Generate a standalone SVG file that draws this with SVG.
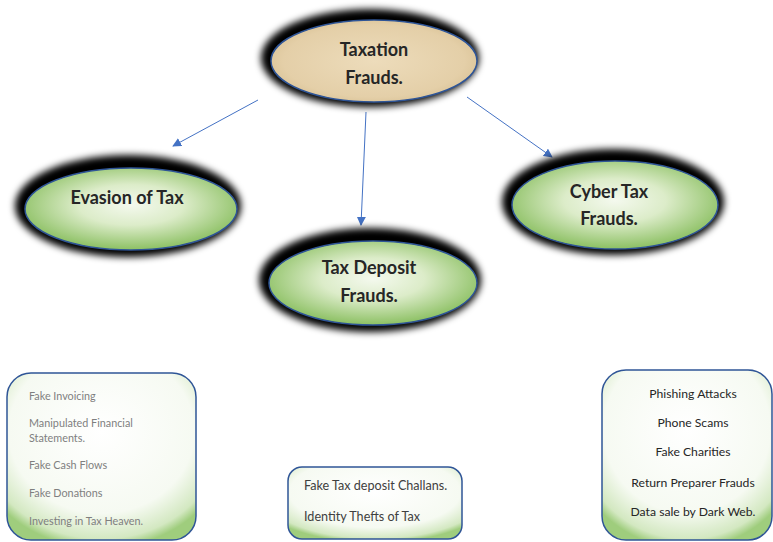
<svg xmlns="http://www.w3.org/2000/svg" width="773" height="542" viewBox="0 0 773 542">
<defs>
<filter id="glow" x="-30%" y="-40%" width="160%" height="180%"><feGaussianBlur stdDeviation="3.5"/></filter>
<radialGradient id="green" cx="50%" cy="45%" r="55%">
<stop offset="0" stop-color="#f4f9ee"/><stop offset="0.45" stop-color="#dcecc9"/><stop offset="1" stop-color="#8cc063"/>
</radialGradient>
<radialGradient id="beige" cx="50%" cy="50%" r="55%">
<stop offset="0" stop-color="#eddcbb"/><stop offset="0.8" stop-color="#e4cfa8"/><stop offset="1" stop-color="#d9c296"/>
</radialGradient>
<radialGradient id="boxg" cx="50%" cy="35%" r="70%">
<stop offset="0" stop-color="#ffffff"/><stop offset="0.7" stop-color="#f6faf2"/><stop offset="0.92" stop-color="#d3e8c1"/><stop offset="1" stop-color="#9fcd7d"/>
</radialGradient>
<marker id="arr" viewBox="0 0 10 10" refX="9" refY="5" markerWidth="9" markerHeight="9" markerUnits="userSpaceOnUse" orient="auto">
<path d="M0,0 L10,5 L0,10 z" fill="#4472c4"/>
</marker>
<style>
.sh{fill:#000;filter:url(#glow)}
.el{stroke:#2f5597;stroke-width:1.5}
.t{font-family:Lato,"Open Sans","Liberation Sans",sans-serif;font-weight:bold;font-size:18px;fill:#262626;text-anchor:middle}
.box{fill:url(#boxg);stroke:#2f5597;stroke-width:1.5}
.s1{font-family:Lato,"Open Sans","Liberation Sans",sans-serif;font-size:10.8px;fill:#7f7f7f}
.s2{font-family:Lato,"Open Sans","Liberation Sans",sans-serif;font-size:12.6px;fill:#404040}
.s3{font-family:Lato,"Open Sans","Liberation Sans",sans-serif;font-size:12.2px;fill:#262626;text-anchor:middle}
.c{stroke:#4472c4;stroke-width:1;fill:none;marker-end:url(#arr)}
</style>
</defs>
<rect width="773" height="542" fill="#fff"/>
<g id="connectors">
<line class="c" x1="258" y1="100" x2="173" y2="146"/>
<line class="c" x1="366" y1="112" x2="361" y2="225"/>
<line class="c" x1="467" y1="97" x2="552" y2="157"/>
</g>
<g id="taxation">
<ellipse class="sh" cx="370" cy="58" rx="109" ry="49"/>
<ellipse class="el" cx="374" cy="61" rx="103" ry="41" fill="url(#beige)"/>
<text class="t" x="374" y="56">Taxation</text>
<text class="t" x="374" y="84">Frauds.</text>
</g>
<g id="evasion">
<ellipse class="sh" cx="128" cy="206" rx="113" ry="51"/>
<ellipse class="el" cx="131" cy="209" rx="106" ry="41" fill="url(#green)"/>
<text class="t" x="127" y="204">Evasion of Tax</text>
</g>
<g id="deposit">
<ellipse class="sh" cx="370" cy="280" rx="111" ry="52"/>
<ellipse class="el" cx="373" cy="283" rx="104" ry="42" fill="url(#green)"/>
<text class="t" x="369" y="274">Tax Deposit</text>
<text class="t" x="369" y="302">Frauds.</text>
</g>
<g id="cyber">
<ellipse class="sh" cx="613" cy="202" rx="111" ry="53"/>
<ellipse class="el" cx="615" cy="205" rx="103" ry="44" fill="url(#green)"/>
<text class="t" x="609" y="198">Cyber Tax</text>
<text class="t" x="609" y="225">Frauds.</text>
</g>
<g id="box-evasion">
<rect class="box" x="7" y="373" width="189" height="167" rx="24"/>
<text class="s1" x="29" y="400">Fake Invoicing</text>
<text class="s1" x="29" y="427">Manipulated Financial</text>
<text class="s1" x="29" y="442">Statements.</text>
<text class="s1" x="29" y="469">Fake Cash Flows</text>
<text class="s1" x="29" y="497">Fake Donations</text>
<text class="s1" x="29" y="525">Investing in Tax Heaven.</text>
</g>
<g id="box-deposit">
<rect class="box" x="288" y="467" width="174" height="72" rx="14"/>
<text class="s2" x="304" y="490">Fake Tax deposit Challans.</text>
<text class="s2" x="304" y="521">Identity Thefts of Tax</text>
</g>
<g id="box-cyber">
<rect class="box" x="602" y="370" width="170" height="170" rx="24"/>
<text class="s3" x="693" y="398">Phishing Attacks</text>
<text class="s3" x="693" y="427">Phone Scams</text>
<text class="s3" x="693" y="456">Fake Charities</text>
<text class="s3" x="693" y="487">Return Preparer Frauds</text>
<text class="s3" x="693" y="516">Data sale by Dark Web.</text>
</g>
</svg>
